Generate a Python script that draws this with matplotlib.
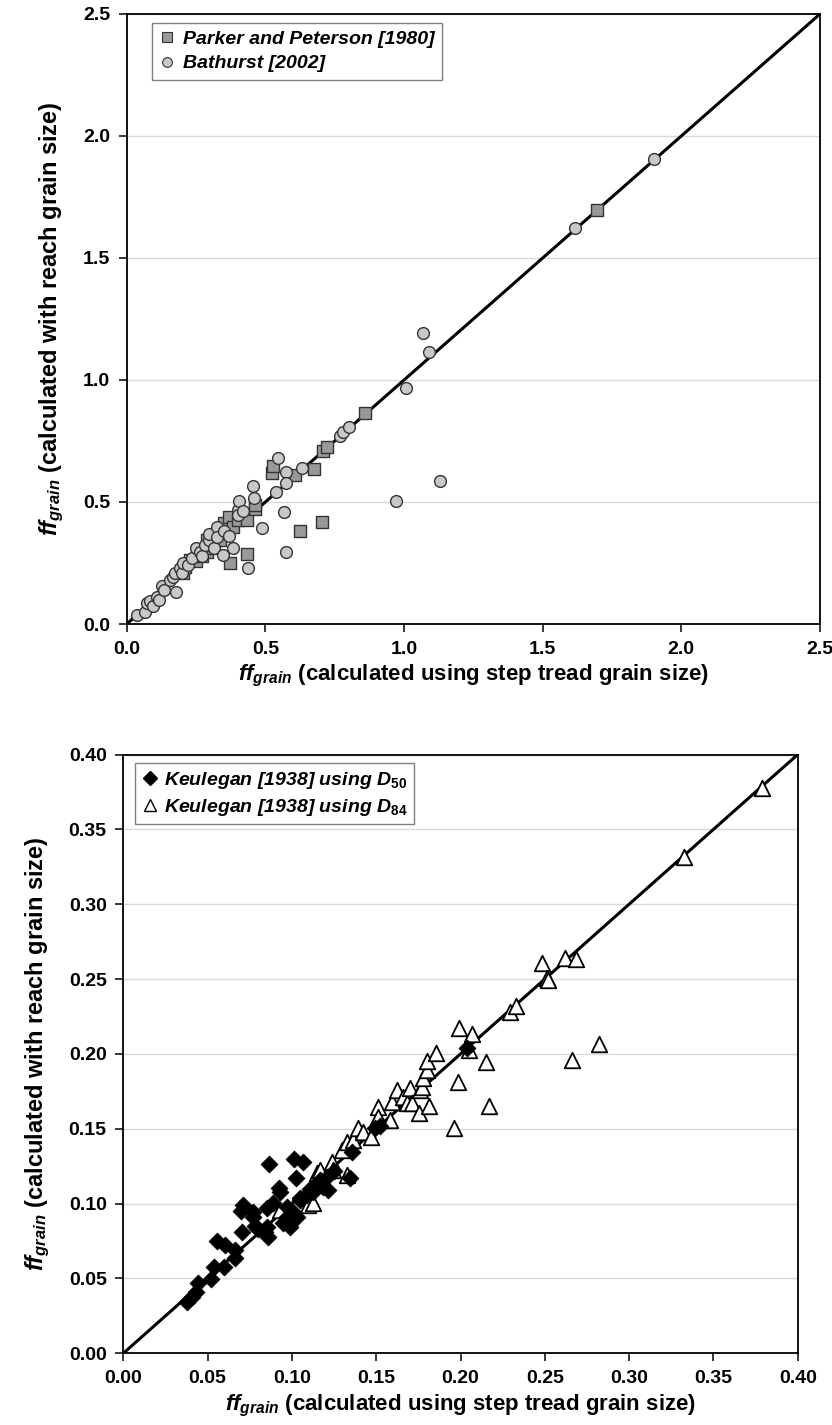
import numpy as np
import matplotlib.pyplot as plt
from matplotlib.lines import Line2D

plt.rcParams['font.family'] = ['Liberation Sans Narrow', 'Liberation Sans', 'DejaVu Sans']
plt.rcParams['mathtext.fontset'] = 'custom'
plt.rcParams['mathtext.rm'] = 'Liberation Sans:bold'
plt.rcParams['mathtext.it'] = 'Liberation Sans:bold:italic'
plt.rcParams['mathtext.bf'] = 'Liberation Sans:bold'

# --- top panel: Parker and Peterson [1980] / Bathurst [2002] ---
parker_x = [0.204, 0.210, 0.228, 0.250, 0.258, 0.270, 0.289, 0.289, 0.300, 0.315, 0.336,
            0.351, 0.361, 0.370, 0.373, 0.382, 0.403, 0.433, 0.435, 0.463, 0.463, 0.523,
            0.526, 0.607, 0.626, 0.677, 0.703, 0.707, 0.721, 0.861, 1.697]
parker_y = [0.208, 0.235, 0.262, 0.260, 0.290, 0.280, 0.344, 0.297, 0.310, 0.324, 0.344,
            0.413, 0.372, 0.440, 0.249, 0.399, 0.426, 0.426, 0.286, 0.470, 0.488, 0.617,
            0.649, 0.611, 0.381, 0.637, 0.419, 0.710, 0.724, 0.863, 1.697]

bathurst_x = [0.038, 0.066, 0.072, 0.085, 0.096, 0.108, 0.115, 0.126, 0.135, 0.156, 0.168,
              0.174, 0.178, 0.192, 0.200, 0.204, 0.220, 0.234, 0.250, 0.264, 0.270, 0.282,
              0.295, 0.298, 0.315, 0.325, 0.325, 0.349, 0.350, 0.370, 0.385, 0.403, 0.403,
              0.406, 0.421, 0.439, 0.457, 0.460, 0.488, 0.537, 0.547, 0.568, 0.573, 0.573,
              0.573, 0.631, 0.769, 0.781, 0.803, 0.971, 1.006, 1.067, 1.090, 1.130, 1.617,
              1.903]
bathurst_y = [0.037, 0.050, 0.087, 0.093, 0.075, 0.112, 0.100, 0.157, 0.140, 0.180, 0.194,
              0.208, 0.132, 0.228, 0.210, 0.249, 0.240, 0.272, 0.313, 0.296, 0.280, 0.325,
              0.345, 0.369, 0.310, 0.396, 0.355, 0.283, 0.380, 0.360, 0.313, 0.467, 0.447,
              0.505, 0.464, 0.230, 0.567, 0.515, 0.393, 0.542, 0.679, 0.459, 0.622, 0.577,
              0.295, 0.638, 0.770, 0.788, 0.806, 0.505, 0.969, 1.193, 1.116, 0.586, 1.622,
              1.906]

# --- bottom panel: Keulegan [1938] with D50 / D84 ---
d50_x = [0.0376, 0.0405, 0.0431, 0.0445, 0.0520, 0.0540, 0.0558, 0.0597, 0.0603, 0.0662,
         0.0662, 0.0696, 0.0704, 0.0708, 0.0767, 0.0767, 0.0780, 0.0800, 0.0842, 0.0850,
         0.0850, 0.0860, 0.0866, 0.0890, 0.0925, 0.0930, 0.0949, 0.0969, 0.0970, 0.0989,
         0.1008, 0.1012, 0.1024, 0.1028, 0.1048, 0.1050, 0.1068, 0.1088, 0.1107, 0.1127,
         0.1150, 0.1167, 0.1186, 0.1206, 0.1216, 0.1250, 0.1345, 0.1355, 0.1493, 0.1522,
         0.2037]
d50_y = [0.0345, 0.0378, 0.0412, 0.0472, 0.0496, 0.0579, 0.0752, 0.0574, 0.0723, 0.0690,
         0.0635, 0.0953, 0.0812, 0.0990, 0.0946, 0.0908, 0.0850, 0.0830, 0.0812, 0.0968,
         0.0846, 0.0779, 0.1265, 0.1002, 0.1102, 0.1080, 0.0868, 0.0913, 0.0980, 0.0846,
         0.0946, 0.1296, 0.1169, 0.0913, 0.1024, 0.1040, 0.1280, 0.1057, 0.1100, 0.1080,
         0.1130, 0.1158, 0.1113, 0.1180, 0.1090, 0.1220, 0.1169, 0.1347, 0.1503, 0.1518,
         0.2037]

d84_x = [0.0929, 0.1097, 0.1123, 0.1147, 0.1167, 0.1236, 0.1246, 0.1295, 0.1325, 0.1329,
         0.1364, 0.1394, 0.1424, 0.1467, 0.1513, 0.1513, 0.1582, 0.1592, 0.1622, 0.1661,
         0.1680, 0.1700, 0.1710, 0.1754, 0.1760, 0.1770, 0.1776, 0.1800, 0.1800, 0.1815,
         0.1855, 0.1963, 0.1987, 0.1993, 0.2052, 0.2070, 0.2151, 0.2169, 0.2294, 0.2329,
         0.2481, 0.2511, 0.2521, 0.2620, 0.2660, 0.2684, 0.2823, 0.3327, 0.3790]
d84_y = [0.0957, 0.0991, 0.1002, 0.1202, 0.1225, 0.1280, 0.1225, 0.1358, 0.1414, 0.1191,
         0.1425, 0.1503, 0.1481, 0.1443, 0.1643, 0.1581, 0.1558, 0.1681, 0.1759, 0.1714,
         0.1670, 0.1770, 0.1670, 0.1603, 0.1759, 0.1781, 0.1837, 0.1892, 0.1953, 0.1654,
         0.2008, 0.1507, 0.1810, 0.2171, 0.2026, 0.2131, 0.1948, 0.1652, 0.2282, 0.2320,
         0.2605, 0.2505, 0.2494, 0.2640, 0.1959, 0.2634, 0.2066, 0.3313, 0.3774]

top_ticks = [0.0, 0.5, 1.0, 1.5, 2.0, 2.5]
bot_ticks = [0.00, 0.05, 0.10, 0.15, 0.20, 0.25, 0.30, 0.35, 0.40]

fig = plt.figure(figsize=(8.32, 14.25), dpi=100)
ax1 = fig.add_axes([0.1523, 0.5621, 0.8333, 0.4281])
ax2 = fig.add_axes([0.1482, 0.0503, 0.8106, 0.4202])

xlab = r'$ff_{grain}$ (calculated using step tread grain size)'
ylab = r'$ff_{grain}$ (calculated with reach grain size)'


def style_axes(ax, ticks, fmt):
    ax.set_xlim(ticks[0], ticks[-1])
    ax.set_ylim(ticks[0], ticks[-1])
    ax.set_xticks(ticks)
    ax.set_yticks(ticks)
    ax.set_xticklabels([fmt.format(t) for t in ticks])
    ax.set_yticklabels([fmt.format(t) for t in ticks])
    ax.yaxis.grid(True, color='#d9d9d9', lw=1)
    ax.set_axisbelow(True)
    for s in ax.spines.values():
        s.set_color('black')
        s.set_linewidth(1.3)
    ax.tick_params(direction='out', length=6, width=1.1, labelsize=14, pad=6)
    for lab in ax.get_xticklabels() + ax.get_yticklabels():
        lab.set_fontweight('bold')
    ax.set_xlabel(xlab, fontsize=16, fontweight='bold', labelpad=4)
    ax.set_ylabel(ylab, fontsize=17, fontweight='bold', labelpad=12)
    ax.axline((0, 0), slope=1, color='black', lw=2.2, zorder=2)


style_axes(ax1, top_ticks, '{:.1f}')
style_axes(ax2, bot_ticks, '{:.2f}')

ax1.scatter(parker_x, parker_y, marker='s', s=70, facecolor='#999999',
            edgecolor='#333333', linewidths=1.0, zorder=3)
ax1.scatter(bathurst_x, bathurst_y, marker='o', s=72, facecolor='#c8c8c8',
            edgecolor='#333333', linewidths=1.0, zorder=4)

ax2.scatter(d84_x, d84_y, marker='^', s=125, facecolor='white',
            edgecolor='black', linewidths=1.3, zorder=3)
ax2.scatter(d50_x, d50_y, marker='D', s=75, facecolor='black',
            edgecolor='black', linewidths=0.5, zorder=4)

leg_font = {'family': 'Liberation Sans', 'weight': 'bold', 'style': 'italic', 'size': 14}

h1 = [Line2D([], [], ls='none', marker='s', ms=7, mfc='#999999', mec='#333333', mew=0.8),
      Line2D([], [], ls='none', marker='o', ms=7, mfc='#c8c8c8', mec='#333333', mew=0.8)]
leg1 = ax1.legend(h1, ['Parker and Peterson [1980]', 'Bathurst [2002]'],
                  loc='upper left', bbox_to_anchor=(0.036, 0.986), prop=leg_font,
                  frameon=True, fancybox=False, edgecolor='#808080', framealpha=1,
                  handlelength=0.8, handletextpad=0.4, borderpad=0.4, labelspacing=0.35,
                  borderaxespad=0)
leg1.get_frame().set_linewidth(1.0)

h2 = [Line2D([], [], ls='none', marker='D', ms=7, mfc='black', mec='black'),
      Line2D([], [], ls='none', marker='^', ms=9, mfc='white', mec='black', mew=1.0)]
leg2 = ax2.legend(h2, [r'Keulegan [1938] using $D_{\mathrm{50}}$',
                       r'Keulegan [1938] using $D_{\mathrm{84}}$'],
                  loc='upper left', bbox_to_anchor=(0.018, 0.986), prop=leg_font,
                  frameon=True, fancybox=False, edgecolor='#808080', framealpha=1,
                  handlelength=0.8, handletextpad=0.3, borderpad=0.35, labelspacing=0.3,
                  borderaxespad=0)
leg2.get_frame().set_linewidth(1.0)

fig.savefig('out.png', dpi=100)
